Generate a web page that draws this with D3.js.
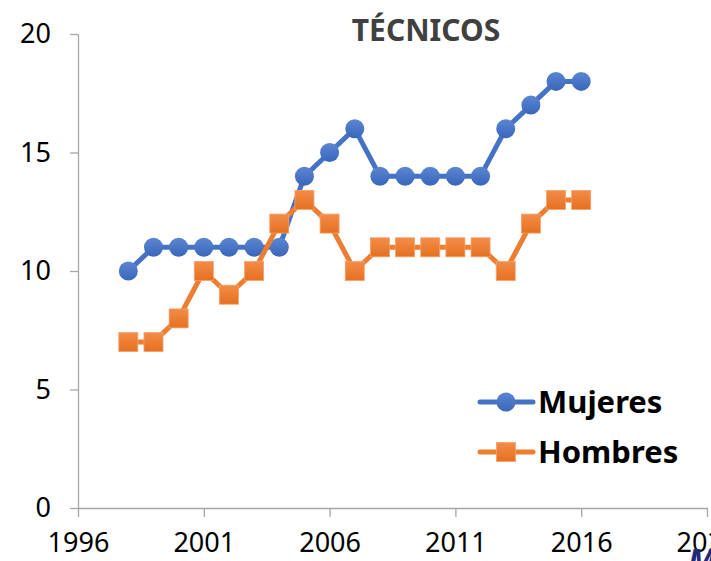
<!DOCTYPE html>
<html>
<head>
<meta charset="utf-8">
<script src="https://cdn.jsdelivr.net/npm/d3@7"></script>
<style>
  body { margin: 0; background: #fff; overflow: hidden; }
  text { font-family: "Noto Sans", sans-serif; }
</style>
</head>
<body>
<script>
var years = [1998, 1999, 2000, 2001, 2002, 2003, 2004, 2005, 2006, 2007, 2008, 2009, 2010, 2011, 2012, 2013, 2014, 2015, 2016];
var mujeres = [10, 11, 11, 11, 11, 11, 11, 14, 15, 16, 14, 14, 14, 14, 14, 16, 17, 18, 18];
var hombres = [7, 7, 8, 10, 9, 10, 12, 13, 12, 10, 11, 11, 11, 11, 11, 10, 12, 13, 13];
var xTicks = [1996, 2001, 2006, 2011, 2016, 2021];
var yTicks = [0, 5, 10, 15, 20];

var width = 711, height = 561;

var svg = d3.select("body").append("svg")
            .attr("width", width)
            .attr("height", height);

var defs = svg.append("defs");
function grad(id, c1, c2) {
  var g = defs.append("linearGradient").attr("id", id)
              .attr("x1", 0).attr("y1", 0).attr("x2", 0).attr("y2", 1);
  g.append("stop").attr("offset", "0%").attr("stop-color", c1);
  g.append("stop").attr("offset", "100%").attr("stop-color", c2);
}
grad("gBlue", "#5b86d2", "#3a66bb");
grad("gOrange", "#f38c48", "#e57020");

var x = d3.scaleLinear().domain([1996, 2021]).range([78, 707]);
var y = d3.scaleLinear().domain([0, 20]).range([508, 34]);

// axes
var yAxis = svg.append("g")
   .attr("transform", "translate(78,0)")
   .call(d3.axisLeft(y).tickValues(yTicks).tickSize(8).tickSizeOuter(0).tickPadding(19));
var xAxis = svg.append("g")
   .attr("transform", "translate(0,508)")
   .call(d3.axisBottom(x).tickValues(xTicks).tickFormat(d3.format("d")).tickSize(9).tickSizeOuter(0).tickPadding(16));

svg.selectAll(".domain, .tick line").attr("stroke", "#a6a6a6").attr("stroke-width", 1.3);
svg.selectAll(".tick text").attr("font-size", "27px").attr("fill", "#000")
   .attr("font-family", "'Noto Sans', sans-serif");

// title
svg.append("text")
   .attr("x", 426).attr("y", 41)
   .attr("text-anchor", "middle")
   .attr("font-size", "30px").attr("font-weight", "bold")
   .attr("fill", "#404040")
   .text("TÉCNICOS");

var line = d3.line()
   .x(function(d, i) { return x(years[i]); })
   .y(function(d) { return y(d); });

// Mujeres
svg.append("path").datum(mujeres)
   .attr("d", line).attr("fill", "none")
   .attr("stroke", "#4472c4").attr("stroke-width", 5).attr("stroke-linejoin", "round");
svg.append("g").selectAll("circle").data(mujeres).enter().append("circle")
   .attr("cx", function(d, i) { return x(years[i]); })
   .attr("cy", function(d) { return y(d); })
   .attr("r", 9.5)
   .attr("fill", "url(#gBlue)");

// Hombres
svg.append("path").datum(hombres)
   .attr("d", line).attr("fill", "none")
   .attr("stroke", "#ed7d31").attr("stroke-width", 5).attr("stroke-linejoin", "round");
svg.append("g").selectAll("rect").data(hombres).enter().append("rect")
   .attr("x", function(d, i) { return x(years[i]) - 9.5; })
   .attr("y", function(d) { return y(d) - 9.5; })
   .attr("width", 19).attr("height", 19)
   .attr("fill", "url(#gOrange)")
   .attr("stroke", "#f5a06a").attr("stroke-width", 0.8);

// legend
var legend = svg.append("g");
legend.append("line").attr("x1", 480).attr("x2", 533).attr("y1", 402).attr("y2", 402)
      .attr("stroke", "#4472c4").attr("stroke-width", 5).attr("stroke-linecap", "round");
legend.append("circle").attr("cx", 506).attr("cy", 402).attr("r", 9.5).attr("fill", "url(#gBlue)");
legend.append("text").attr("x", 538).attr("y", 413)
      .attr("font-size", "31px").attr("font-weight", "bold").attr("fill", "#000").text("Mujeres");

legend.append("line").attr("x1", 480).attr("x2", 533).attr("y1", 452).attr("y2", 452)
      .attr("stroke", "#ed7d31").attr("stroke-width", 5).attr("stroke-linecap", "round");
legend.append("rect").attr("x", 496.5).attr("y", 442.5).attr("width", 19).attr("height", 19)
      .attr("fill", "url(#gOrange)").attr("stroke", "#f5a06a").attr("stroke-width", 0.8);
legend.append("text").attr("x", 538).attr("y", 463)
      .attr("font-size", "31px").attr("font-weight", "bold").attr("fill", "#000").text("Hombres");

// clipped watermark letter in the corner
svg.append("text").attr("x", 688).attr("y", 572)
   .attr("font-size", "32px").attr("font-weight", "bold").attr("font-style", "italic")
   .attr("fill", "#1f2a78").text("M");
</script>
</body>
</html>
